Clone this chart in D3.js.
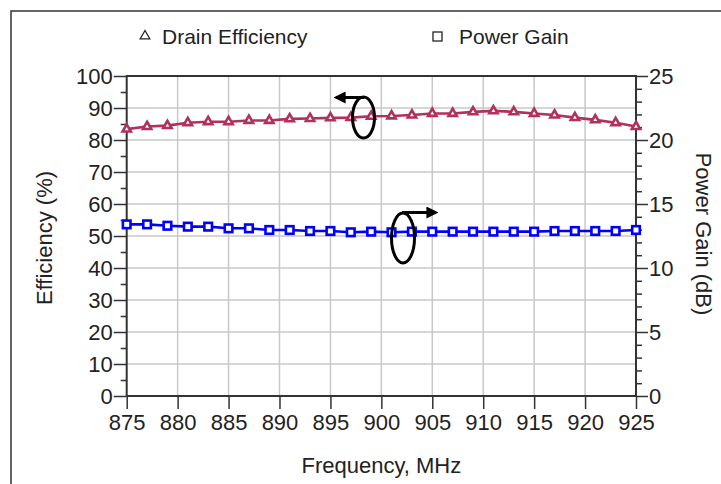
<!DOCTYPE html>
<html><head><meta charset="utf-8">
<script src="https://cdn.jsdelivr.net/npm/d3@7"></script>
<style>body{margin:0;background:#fff}svg{display:block}text{font-family:"Liberation Sans",Arial,sans-serif;fill:#222}</style>
</head><body>
<svg id="c" width="721" height="484"></svg>
<script>
const freq = [875,877,879,881,883,885,887,889,891,893,895,897,899,901,903,905,907,909,911,913,915,917,919,921,923,925];
const efficiency = [83.4,84.2,84.5,85.4,85.7,85.7,86.1,86.1,86.6,86.7,86.9,87.0,87.4,87.5,87.8,88.3,88.3,88.8,89.1,88.8,88.3,87.8,87.0,86.3,85.4,84.2];
const gain = [13.41,13.41,13.3,13.23,13.23,13.1,13.1,12.97,12.97,12.89,12.89,12.79,12.84,12.79,12.84,12.84,12.84,12.84,12.84,12.84,12.84,12.89,12.89,12.89,12.89,12.97];
const xTicks = [875,880,885,890,895,900,905,910,915,920,925];
const effTicks = [0,10,20,30,40,50,60,70,80,90,100];
const gainTicks = [0,5,10,15,20,25];
const legendLabels = ["Drain Efficiency","Power Gain"];

const svg = d3.select("#c");
const L=126.7, R=636, T=76, B=396;
const FS=22;
const x = d3.scaleLinear().domain([875,925]).range([L,R]);
const yL = d3.scaleLinear().domain([0,100]).range([B,T]);
const yR = d3.scaleLinear().domain([0,25]).range([B,T]);
const effColor="#B0305E", gainColor="#0000FF";

// outer frame
svg.append("rect").attr("x",11).attr("y",11).attr("width",720).attr("height",480)
  .attr("fill","none").attr("stroke","#333").attr("stroke-width",1.5);

// grid
const g = svg.append("g");
g.selectAll(".vg").data(xTicks.slice(1,-1)).join("line")
  .attr("x1",d=>x(d)).attr("x2",d=>x(d)).attr("y1",T).attr("y2",B)
  .attr("stroke","#c8c8c8").attr("stroke-width",1.5);
g.selectAll(".hg").data(effTicks.slice(1,-1)).join("line")
  .attr("x1",L).attr("x2",R).attr("y1",d=>yL(d)).attr("y2",d=>yL(d))
  .attr("stroke","#c8c8c8").attr("stroke-width",1.5);

// axes
const axisColor="#333";
function styleAxis(sel){sel.select(".domain").remove();sel.selectAll("line").attr("stroke",axisColor).attr("stroke-width",1.5);sel.selectAll("text").attr("font-size",FS).attr("fill","#222").attr("font-family","Liberation Sans, Arial, sans-serif");}
const ax = svg.append("g").attr("transform",`translate(0,${B})`)
  .call(d3.axisBottom(x).tickValues(xTicks).tickFormat(d3.format("d")).tickSize(13).tickPadding(5));
styleAxis(ax);
const axL = svg.append("g").attr("transform",`translate(${L},0)`)
  .call(d3.axisLeft(yL).tickValues(effTicks).tickSize(13).tickPadding(1));
styleAxis(axL);
axL.selectAll("text").attr("dy","0.35em");
const axLm = svg.append("g").attr("transform",`translate(${L},0)`)
  .call(d3.axisLeft(yL).tickValues(d3.range(5,100,10)).tickSize(6).tickFormat(""));
styleAxis(axLm);
const axR = svg.append("g").attr("transform",`translate(${R},0)`)
  .call(d3.axisRight(yR).tickValues(gainTicks).tickSize(12).tickPadding(1));
styleAxis(axR);
axR.selectAll("text").attr("dy","0.35em");
const axRm = svg.append("g").attr("transform",`translate(${R},0)`)
  .call(d3.axisRight(yR).tickValues(d3.range(0,26).filter(v=>v%5!==0)).tickSize(6).tickFormat(""));
styleAxis(axRm);
// frame lines
svg.append("path").attr("d",`M${L},${B}V${T}H${R}V${B}H${L}`).attr("fill","none")
  .attr("stroke",axisColor).attr("stroke-width",2);

// series
const effLine = d3.line().x((d,i)=>x(freq[i])).y(d=>yL(d));
svg.append("path").datum(efficiency).attr("d",effLine).attr("fill","none")
  .attr("stroke",effColor).attr("stroke-width",2.6);
const tri = d3.symbol().type(d3.symbolTriangle).size(30);
svg.selectAll(".tri").data(efficiency).join("path")
  .attr("transform",(d,i)=>`translate(${x(freq[i])},${yL(d)})`)
  .attr("d",tri).attr("fill","#fff").attr("stroke",effColor).attr("stroke-width",2.6);

const gainLine = d3.line().x((d,i)=>x(freq[i])).y(d=>yR(d));
svg.append("path").datum(gain).attr("d",gainLine).attr("fill","none")
  .attr("stroke",gainColor).attr("stroke-width",2.6);
svg.selectAll(".sq").data(gain).join("rect")
  .attr("x",(d,i)=>x(freq[i])-3.8).attr("y",d=>yR(d)-3.8).attr("width",7.6).attr("height",7.6)
  .attr("fill","#fff").attr("stroke",gainColor).attr("stroke-width",2.6);

// annotations
svg.append("defs").append("marker").attr("id","ah").attr("viewBox","0 0 10 10")
  .attr("refX",8).attr("refY",5).attr("markerWidth",4).attr("markerHeight",4).attr("orient","auto")
  .append("path").attr("d","M0,0L10,5L0,10z").attr("fill","#000");
svg.append("ellipse").attr("cx",363.5).attr("cy",117.5).attr("rx",11).attr("ry",20.5)
  .attr("fill","none").attr("stroke","#000").attr("stroke-width",3);
svg.append("path").attr("d","M364,97.5 L336,97.5").attr("stroke","#000").attr("stroke-width",3)
  .attr("fill","none").attr("marker-end","url(#ah)");
svg.append("ellipse").attr("cx",403).attr("cy",238).attr("rx",11.5).attr("ry",25)
  .attr("fill","none").attr("stroke","#000").attr("stroke-width",3);
svg.append("path").attr("d","M402,212.5 L436,212.5").attr("stroke","#000").attr("stroke-width",3)
  .attr("fill","none").attr("marker-end","url(#ah)");

// axis titles
svg.append("text").attr("x",(L+R)/2+0).attr("y",473).attr("text-anchor","middle").attr("font-size",FS).text("Frequency, MHz");
svg.append("text").attr("transform","translate(52,238) rotate(-90)").attr("text-anchor","middle").attr("font-size",FS).text("Efficiency (%)");
svg.append("text").attr("transform","translate(696,234) rotate(90)").attr("text-anchor","middle").attr("font-size",FS).text("Power Gain (dB)");

// legend
const lg = svg.append("g");
lg.append("path").attr("transform","translate(145,36)").attr("d",d3.symbol().type(d3.symbolTriangle).size(40))
  .attr("fill","none").attr("stroke","#222").attr("stroke-width",1.3);
lg.append("text").attr("x",162).attr("y",44).attr("font-size",21).text(legendLabels[0]);
lg.append("rect").attr("x",433).attr("y",32).attr("width",9).attr("height",9)
  .attr("fill","none").attr("stroke","#222").attr("stroke-width",1.3);
lg.append("text").attr("x",459).attr("y",44).attr("font-size",21).text(legendLabels[1]);
</script>
</body></html>
